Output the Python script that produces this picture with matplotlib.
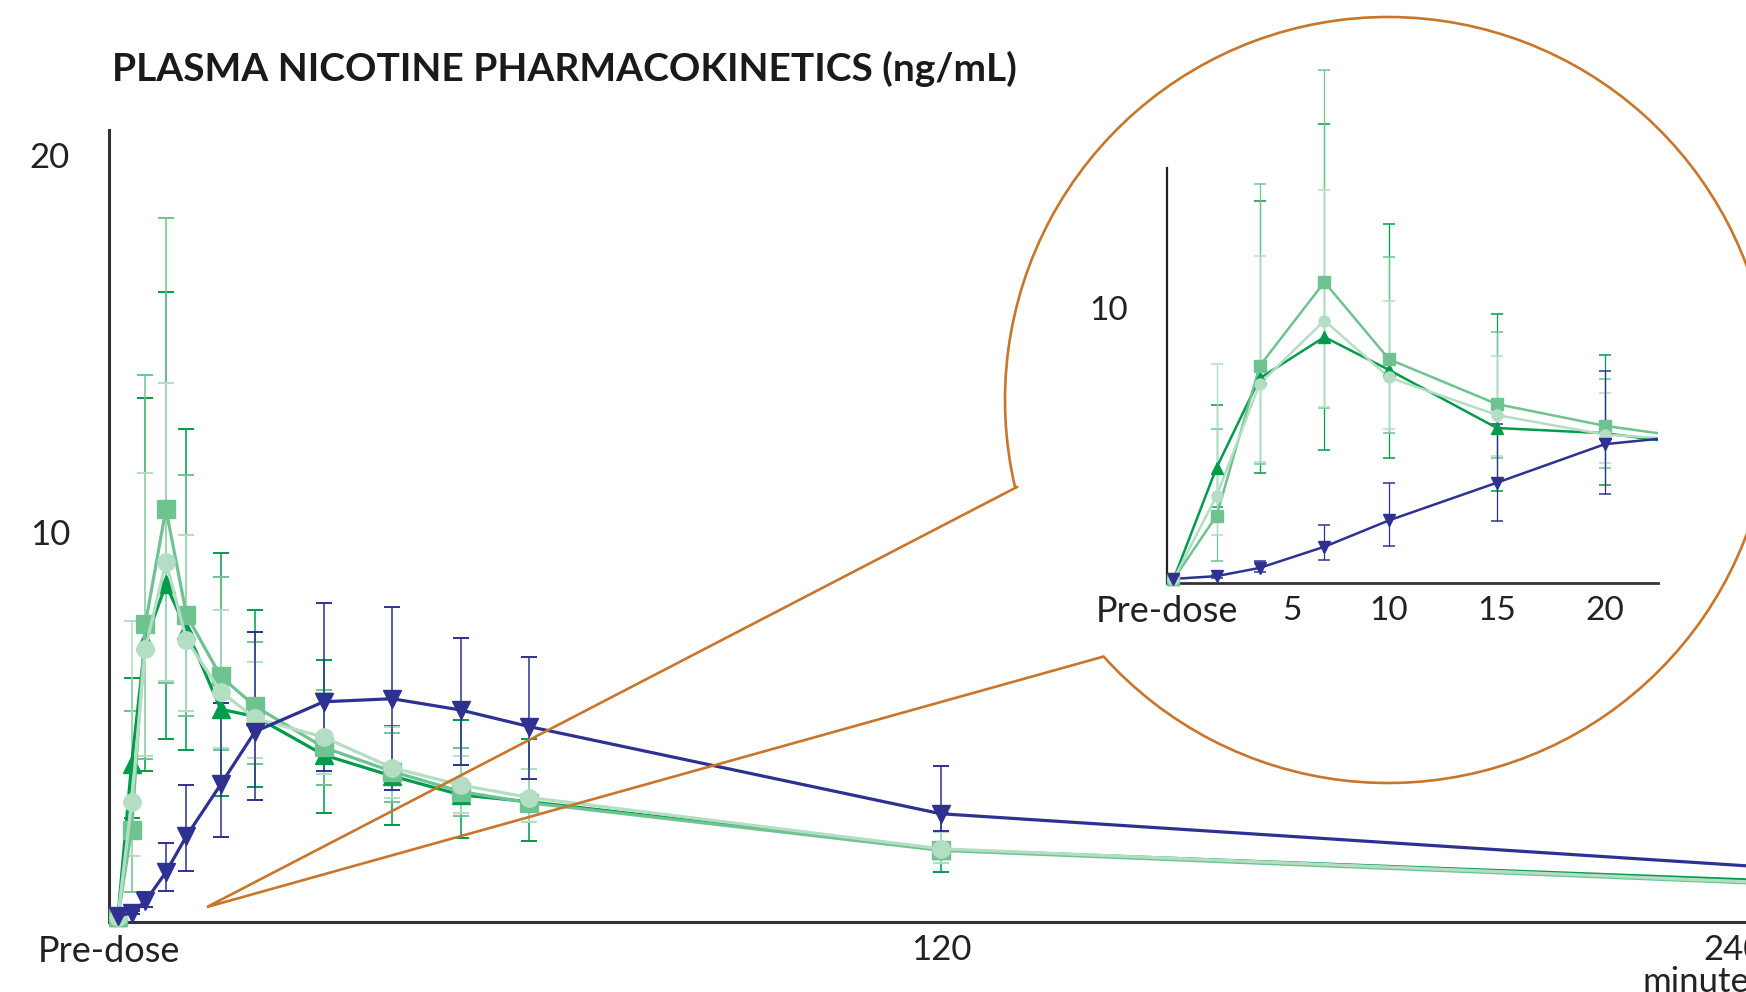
import numpy as np
import matplotlib
matplotlib.use('Agg')
import matplotlib.pyplot as plt
from matplotlib.patches import Arc

plt.rcParams['font.family'] = ['Lato', 'DejaVu Sans']

# sampling times (minutes after dose), 0 = pre-dose
times = [0, 2, 4, 7, 10, 15, 20, 30, 40, 50, 60, 120, 240]

# dark green, up triangles
tri_mean = [0.13, 4.2, 7.45, 8.95, 7.75, 5.64, 5.45, 4.43, 3.87, 3.37, 3.19, 1.92, 1.1]
tri_lo = [0.13, 2.77, 4.0, 4.85, 4.56, 3.34, 3.57, 2.88, 2.56, 2.22, 2.16, 1.32, 0.8]
tri_hi = [0.13, 6.48, 13.9, 16.7, 13.07, 9.78, 8.28, 6.94, 5.2, 5.36, 4.85, 2.89, 1.4]

# mid green, squares
sq_mean = [0.13, 2.45, 7.9, 10.95, 8.14, 6.51, 5.72, 4.63, 3.99, 3.46, 3.16, 1.9, 1.02]
sq_lo = [0.13, 0.79, 4.32, 6.35, 5.46, 4.56, 4.19, 3.63, 3.17, 2.81, 2.66, 1.56, 0.75]
sq_hi = [0.13, 5.6, 14.5, 18.67, 11.85, 9.15, 7.42, 6.14, 5.0, 4.61, 4.05, 2.39, 1.3]

# light green, circles
circ_mean = [0.13, 3.17, 7.25, 9.55, 7.48, 6.11, 5.4, 4.9, 4.09, 3.63, 3.3, 1.94, 1.05]
circ_lo = [0.13, 1.76, 4.39, 6.4, 5.6, 4.62, 4.36, 3.93, 3.28, 2.88, 2.66, 1.56, 0.78]
circ_hi = [0.13, 7.97, 11.9, 14.3, 10.25, 8.27, 6.9, 6.08, 5.16, 4.39, 4.05, 2.39, 1.32]

# navy, down triangles
blue_mean = [0.15, 0.25, 0.55, 1.32, 2.28, 3.65, 5.05, 5.84, 5.92, 5.62, 5.18, 2.87, 1.46]
blue_lo = [0.15, 0.2, 0.4, 0.82, 1.36, 2.26, 3.24, 4.01, 3.5, 4.15, 3.78, 2.4, 1.1]
blue_hi = [0.15, 0.3, 0.8, 2.1, 3.63, 5.8, 7.7, 8.47, 8.36, 7.54, 7.03, 4.14, 1.8]

series = [
    (tri_mean, tri_lo, tri_hi, '^', '#009B4B'),
    (sq_mean, sq_lo, sq_hi, 's', '#6EC391'),
    (circ_mean, circ_lo, circ_hi, 'o', '#B4DEC3'),
    (blue_mean, blue_lo, blue_hi, 'v', '#2E3192'),
]

W, H = 1746, 992
AXIS = '#333333'
ORANGE = '#C8762A'
fig = plt.figure(figsize=(W / 100, H / 100), dpi=100)


def px_box(x0, y0, x1, y1):
    # pixel box (origin top-left) -> figure fraction rect
    return [x0 / W, 1 - y1 / H, (x1 - x0) / W, (y1 - y0) / H]


t = np.array(times)

# ---- main chart (runs off the right edge of the picture)
xl, xr = -1.3, 250
ax = fig.add_axes(px_box(109, 130, 118 + xr * 6.858, 922))
ax.set_xlim(xl, xr)
ax.set_ylim(0, 21)
for m, lo, hi, mk, c in series:
    m = np.array(m)
    err = [m - np.array(lo), np.array(hi) - m]
    ax.errorbar(t, m, yerr=err, fmt='none', ecolor=c, elinewidth=1.1,
                capsize=6, capthick=1.4, clip_on=False, zorder=2)
for m, lo, hi, mk, c in series:
    ax.plot(t, m, color=c, lw=2.3, marker=mk, ms=12.5, mec=c, mfc=c,
            clip_on=False, zorder=3)

for s in ['top', 'right']:
    ax.spines[s].set_visible(False)
for s in ['left', 'bottom']:
    ax.spines[s].set_color(AXIS)
    ax.spines[s].set_linewidth(2.2)
ax.set_yticks([10, 20])
ax.set_yticklabels(['10', '20'])
ax.set_xticks([xl, 120, 240])
ax.set_xticklabels(['Pre-dose', '120', '240\nminutes'], linespacing=1.0)
ax.tick_params(length=0, labelsize=25, colors='#222222')
ax.tick_params(axis='y', pad=28)
ax.tick_params(axis='x', pad=9)
for lab in ax.get_yticklabels():
    lab.set_verticalalignment('baseline')
ax.get_xticklabels()[0].set_fontsize(26)
ax.get_xticklabels()[-1].set_horizontalalignment('right')
ax.get_xticklabels()[-1].set_multialignment('right')

# ---- callout circle and pointer lines
ov = fig.add_axes([0, 0, 1, 1])
ov.set_xlim(0, W)
ov.set_ylim(H, 0)
ov.axis('off')
ov.patch.set_alpha(0)
ov.add_patch(Arc((1388, 400), 766, 766, theta1=166.8, theta2=498.1,
                 color=ORANGE, lw=1.9))
ov.plot([1017, 207, 1102], [487, 907, 657], color=ORANGE, lw=1.9,
        solid_joinstyle='miter')

# ---- zoomed inset (first 20 minutes)
ix = fig.add_axes(px_box(1167, 168, 1658, 583))
ix.patch.set_alpha(0)
ixl, ixr = -0.3, 22.47
ix.set_xlim(ixl, ixr)
ix.set_ylim(0, 15.1)
early = t <= 20
for m, lo, hi, mk, c in series:
    m = np.array(m)
    err = [(m - np.array(lo))[early], (np.array(hi) - m)[early]]
    ix.errorbar(t[early], m[early], yerr=err, fmt='none', ecolor=c,
                elinewidth=0.9, capsize=4, capthick=1.1, clip_on=False, zorder=2)
for m, lo, hi, mk, c in series:
    m = np.array(m)
    ix.plot(t, m, color=c, lw=1.8, zorder=3)
    ix.plot(t[early], m[early], ls='none', marker=mk, ms=8, mec=c, mfc=c,
            clip_on=False, zorder=4)
for s in ['top', 'right']:
    ix.spines[s].set_visible(False)
ix.spines['left'].set_linewidth(1.6)
ix.spines['bottom'].set_linewidth(2.0)
ix.spines['left'].set_color('#222222')
ix.spines['bottom'].set_color(AXIS)
ix.set_yticks([10])
ix.set_yticklabels(['10'])
ix.set_xticks([ixl, 5.5, 10, 15, 20])
ix.set_xticklabels(['Pre-dose', '5', '10', '15', '20'])
ix.tick_params(length=0, labelsize=24, colors='#222222')
ix.tick_params(axis='y', pad=28)
ix.tick_params(axis='x', pad=9)
ix.get_xticklabels()[0].set_fontsize(26)

fig.text(112 / W, 1 - 81 / H, 'PLASMA NICOTINE PHARMACOKINETICS (ng/mL)',
         fontsize=28, fontweight='bold', va='baseline', color='#1A1A1A')

fig.savefig('out.png', dpi=100)
